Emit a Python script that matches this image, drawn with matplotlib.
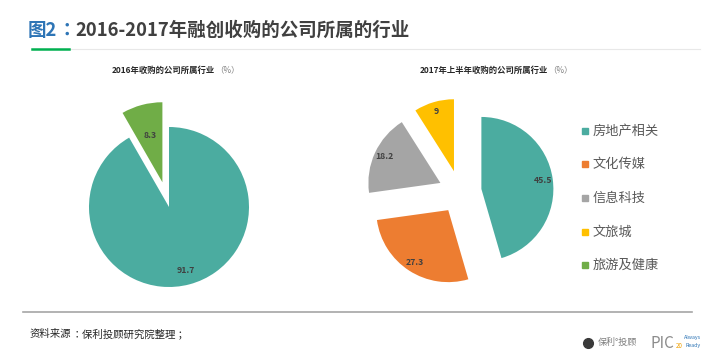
import matplotlib.pyplot as plt
from matplotlib.lines import Line2D

plt.rcParams['font.family'] = ['Noto Sans CJK SC', 'DejaVu Sans']

W, H = 720, 361

# data
cats = ['房地产相关', '文化传媒', '信息科技', '文旅城', '旅游及健康']
colors = ['#4BACA0', '#ED7D31', '#A5A5A5', '#FFC000', '#70AD47']

left_labels = ['房地产相关', '旅游及健康']
left_vals = [91.7, 8.3]
left_explode = [0.0, 0.32]

right_labels = ['房地产相关', '文化传媒', '信息科技', '文旅城']
right_vals = [45.5, 27.3, 18.2, 9]
right_explode = [0.3, 0.3, 0.3, 0.3]

cmap = dict(zip(cats, colors))


def fx(x):
    return x / W


def fy(y):
    return 1 - y / H


def pie_axes(fig, cx, cy, r):
    # square axes spanning 3 radii, centred on (cx, cy) in pixels
    side = 3 * r
    ax = fig.add_axes([fx(cx - side / 2), fy(cy + side / 2), side / W, side / H])
    return ax


def fmt(v):
    return '{:g}'.format(v)


def text_after(fig, prev, y, s, **kw):
    fig.canvas.draw()
    return fig.text(prev.get_window_extent().x1 / W, y, s, va='center', ha='left', **kw)


fig = plt.figure(figsize=(W / 100, H / 100), dpi=100)
lbl_props = dict(fontsize=6.3, fontweight='bold', color='#404040')

# left pie
ax1 = pie_axes(fig, 169, 207, 80)
wedges, texts, autos = ax1.pie(left_vals, colors=[cmap[c] for c in left_labels],
                               explode=left_explode, startangle=90, counterclock=False,
                               autopct='%.1f', pctdistance=0.82, textprops=lbl_props)
# narrow slice label sits a bit further in
x, y = autos[1].get_position()
ox, oy = wedges[1].center
autos[1].set_position((ox + (x - ox) * 0.74, oy + (y - oy) * 0.74))
ax1.set_xlim(-1.5, 1.5)
ax1.set_ylim(-1.5, 1.5)

# right pie
ax2 = pie_axes(fig, 460, 192, 72)
wedges2, texts2, autos2 = ax2.pie(right_vals, colors=[cmap[c] for c in right_labels],
                                  explode=right_explode, startangle=90, counterclock=False,
                                  autopct='%.1f', pctdistance=0.86, textprops=lbl_props)
for t, v in zip(autos2, right_vals):
    t.set_text(fmt(v))
ax2.set_xlim(-1.5, 1.5)
ax2.set_ylim(-1.5, 1.5)

# legend (manual, squares + text)
leg_y = [131, 164, 198, 232, 265]
for c, yy in zip(cats, leg_y):
    fig.add_artist(Line2D([fx(585)], [fy(yy)], marker='s', markersize=4.5,
                          color=cmap[c], linestyle='none', transform=fig.transFigure))
    fig.text(fx(593), fy(yy), c, fontsize=9.5, color='#595959', va='center', ha='left')

# title
t1 = fig.text(fx(28), fy(30), '图2', fontsize=13.3, fontweight='bold', color='#2E75B6',
              va='center', ha='left')
t2 = text_after(fig, t1, fy(30), '：', fontsize=13.3, fontweight='bold', color='#2E75B6',
                family=['Noto Sans CJK TC'])
text_after(fig, t2, fy(30), '2016-2017年融创收购的公司所属的行业', fontsize=13.3,
           fontweight='bold', color='#404040')
fig.add_artist(Line2D([fx(69), fx(700)], [fy(49), fy(49)], color='#E8E8E8', lw=0.8,
                      transform=fig.transFigure))
fig.add_artist(Line2D([fx(32), fx(69)], [fy(49), fy(49)], color='#00B050', lw=1.8,
                      transform=fig.transFigure))

# pie subtitles
s1 = fig.text(fx(112), fy(70), '2016年收购的公司所属行业', fontsize=6, fontweight='bold',
              color='#262626', va='center', ha='left')
text_after(fig, s1, fy(70), '（%）', fontsize=6, color='#808080')
s2 = fig.text(fx(420), fy(70), '2017年上半年收购的公司所属行业', fontsize=6, fontweight='bold',
              color='#262626', va='center', ha='left')
text_after(fig, s2, fy(70), '（%）', fontsize=6, color='#808080')

# footer
fig.add_artist(Line2D([fx(23), fx(692)], [fy(312), fy(312)], color='#A6A6A6', lw=1.2,
                      transform=fig.transFigure))
f1 = fig.text(fx(30), fy(334), '资料来源', fontsize=7.5, color='#262626',
              va='center', ha='left')
f2 = text_after(fig, f1, fy(334), '：', fontsize=7.5, color='#262626',
                family=['Noto Sans CJK TC'])
text_after(fig, f2, fy(334), '保利投顾研究院整理 ；', fontsize=7.5, color='#262626')

# logo
fig.add_artist(Line2D([fx(588)], [fy(343)], marker='o', markersize=7, color='#3A3A3A',
                      linestyle='none', transform=fig.transFigure))
fig.text(fx(598), fy(342), '保利°投顾', fontsize=6.5, color='#7F7F7F', va='center', ha='left')
fig.text(fx(650), fy(343), 'PIC', fontsize=11, color='#8C8C8C', va='center', ha='left')
fig.text(fx(684), fy(338), 'Always', fontsize=3.8, color='#2E75B6', va='center', ha='left')
fig.text(fx(676), fy(346), '20', fontsize=4.5, color='#F0A000', va='center', ha='left')
fig.text(fx(686), fy(346), 'Ready', fontsize=3.8, color='#2E75B6', va='center', ha='left')

fig.savefig('out.png', dpi=100)
